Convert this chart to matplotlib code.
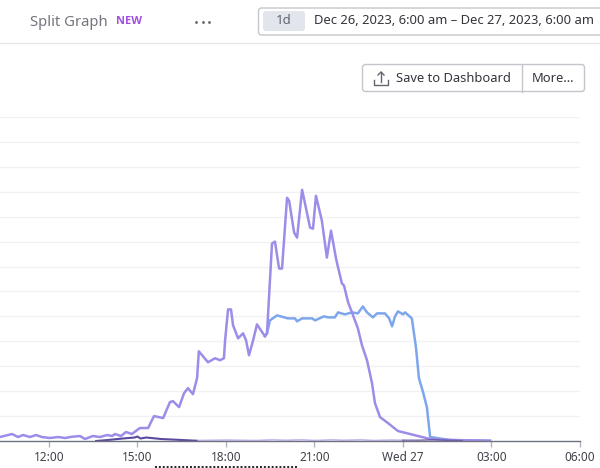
import matplotlib
matplotlib.use('Agg')
import matplotlib.pyplot as plt
from matplotlib.patches import FancyBboxPatch

plt.rcParams['font.family'] = ['Noto Sans', 'DejaVu Sans']

# hours since Dec 26 00:00
purple_hours = [10.34, 10.75, 10.95, 11.12, 11.36, 11.56, 11.76, 12.03, 12.31, 12.54, 12.78, 13.05, 13.22,
                13.49, 13.73, 13.97, 14.14, 14.24, 14.44, 14.61, 14.81, 15.08, 15.36, 15.56, 15.87, 16.10,
                16.20, 16.41, 16.58, 16.71, 16.88, 17.02, 17.08, 17.22, 17.39, 17.63, 17.80, 17.93, 17.97,
                18.07, 18.17, 18.24, 18.41, 18.58, 18.68, 18.78, 18.92, 19.05, 19.32, 19.39, 19.56, 19.66,
                19.80, 19.90, 20.07, 20.14, 20.31, 20.41, 20.58, 20.68, 20.85, 20.95, 21.05, 21.25, 21.42,
                21.56, 21.73, 21.80, 21.93, 22.00, 22.14, 22.27, 22.47, 22.61, 22.78, 22.95, 23.05, 23.22,
                23.49, 23.83, 24.24, 24.51, 24.92, 25.59, 26.95]
purple_vals = [16, 28, 16, 24, 16, 24, 16, 12, 16, 12, 17, 20, 8,
               20, 16, 24, 20, 28, 20, 36, 28, 52, 52, 100, 92, 156,
               160, 136, 192, 212, 188, 252, 360, 340, 316, 332, 324, 332, 404,
               528, 528, 464, 412, 432, 404, 344, 404, 468, 420, 432, 792, 800,
               692, 692, 976, 964, 836, 816, 1008, 952, 856, 852, 984, 884, 736,
               844, 732, 696, 632, 624, 556, 516, 452, 384, 324, 232, 152, 96,
               72, 40, 28, 20, 8, 4, 1]

blue_hours = [19.32, 19.39, 19.49, 19.73, 20.10, 20.34, 20.41, 20.58, 20.92, 21.02, 21.32, 21.46, 21.69,
              21.80, 22.03, 22.27, 22.47, 22.64, 22.78, 22.98, 23.12, 23.39, 23.53, 23.63, 23.73, 23.83,
              24.00, 24.07, 24.30, 24.44, 24.54, 24.68, 24.81, 24.92, 25.59, 26.95]
blue_vals = [420, 432, 484, 504, 492, 492, 480, 492, 492, 484, 500, 496, 496,
             516, 508, 516, 512, 540, 516, 496, 512, 512, 492, 460, 500, 520,
             508, 516, 492, 376, 252, 196, 136, 16, 4, 1]

dark_hours = [13.6, 14.0, 14.5, 14.9, 15.0, 15.1, 15.3, 15.8, 16.5, 17.0]
dark_vals = [0, 4, 10, 14, 18, 10, 14, 8, 4, 1]
dark_late_hours = [24.0, 24.5, 25.0, 25.5, 26.0]
dark_late_vals = [3, 3, 5, 3, 1]
faint_hours = [17.0, 18.0, 19.0, 19.6, 20.0, 20.6, 21.0, 21.6, 22.0, 22.6, 23.0, 23.6, 24.0]
faint_vals = [2, 4, 2, 5, 3, 5, 2, 5, 3, 5, 2, 4, 3]

tick_hours = [12, 15, 18, 21, 24, 27, 30]
tick_labels = ['12:00', '15:00', '18:00', '21:00', 'Wed 27', '03:00', '06:00']
grid_vals = [100 * i for i in range(1, 14)]

fig = plt.figure(figsize=(6, 4.68), dpi=100)

ax = fig.add_axes([0, 27 / 468, 580 / 600, 324 / 468])
ax.set_xlim(10.34, 30)
ax.set_ylim(0, 1296)
ax.set_yticks(grid_vals)
ax.set_yticklabels([])
ax.tick_params(axis='y', length=0)
ax.grid(axis='y', color='#f1f1f3', lw=1)
ax.set_axisbelow(True)
for s in ['top', 'left', 'right']:
    ax.spines[s].set_visible(False)
ax.spines['bottom'].set_color('#6f7280')
ax.spines['bottom'].set_linewidth(1)
ax.set_xticks(tick_hours)
ax.set_xticklabels(tick_labels, fontsize=8.5, color='#3f4249')
ax.tick_params(axis='x', length=4, width=1, color='#b5b7bd', pad=3)

ax.plot(faint_hours, faint_vals, color='#c5bcf0', lw=1.2, clip_on=False)
ax.plot(blue_hours, blue_vals, color='#7da6ec', lw=1.8, clip_on=False, solid_joinstyle='round')
ax.plot(purple_hours, purple_vals, color='#9d8ce8', lw=1.8, clip_on=False, solid_joinstyle='round')
ax.plot(dark_hours, dark_vals, color='#5c4a9e', lw=1.5, clip_on=False, solid_joinstyle='round')
ax.plot(dark_late_hours, dark_late_vals, color='#5c4a9e', lw=1.2, alpha=0.7, clip_on=False)

# page chrome around the chart, in pixels
ui = fig.add_axes([0, 0, 1, 1], facecolor='none')
ui.set_xlim(0, 600)
ui.set_ylim(468, 0)
ui.axis('off')

ui.plot([0, 600], [43, 43], color='#e6e6e8', lw=1)
ui.plot([599.5, 599.5], [60, 468], color='#ececee', lw=1)
ui.text(30, 22, 'Split Graph', fontsize=10.7, color='#73757c', va='center')
ui.text(116, 22, 'NEW', fontsize=8, color='#a24fe0', va='center', fontweight='bold', family='Open Sans')
ui.plot([196, 203, 209], [21.5, 21.5, 21.5], 'o', ms=2, color='#63656c', mew=0)

ui.add_patch(FancyBboxPatch((258.5, 8), 360, 27, boxstyle='round,pad=0,rounding_size=3',
                            fc='white', ec='#c4c6cc', lw=1))
ui.add_patch(FancyBboxPatch((263, 11), 42, 20, boxstyle='round,pad=0,rounding_size=3',
                            fc='#e3e5ec', ec='none'))
ui.text(284, 21, '1d', fontsize=9.5, color='#63656c', va='center', ha='center')
ui.text(314, 21, 'Dec 26, 2023, 6:00 am – Dec 27, 2023, 6:00 am', fontsize=9.35, color='#33353b', va='center')

ui.add_patch(FancyBboxPatch((362.5, 64.5), 222, 27, boxstyle='round,pad=0,rounding_size=3',
                            fc='white', ec='#c4c6cc', lw=1))
ui.plot([521.5, 521.5], [64.5, 91.5], color='#c4c6cc', lw=1)
ui.plot([374, 374, 388, 388], [80, 85, 85, 80], color='#63656c', lw=1)
ui.plot([381, 381], [82, 72], color='#63656c', lw=1)
ui.plot([378, 381, 384], [75, 72, 75], color='#63656c', lw=1)
ui.text(396, 78, 'Save to Dashboard', fontsize=9.3, color='#33353b', va='center')
ui.text(532, 78, 'More...', fontsize=9.3, color='#33353b', va='center')

ui.plot([155, 297], [467, 467], color='#222222', lw=1.4, ls=(0, (1, 1)))

fig.savefig('out.png', dpi=100)
